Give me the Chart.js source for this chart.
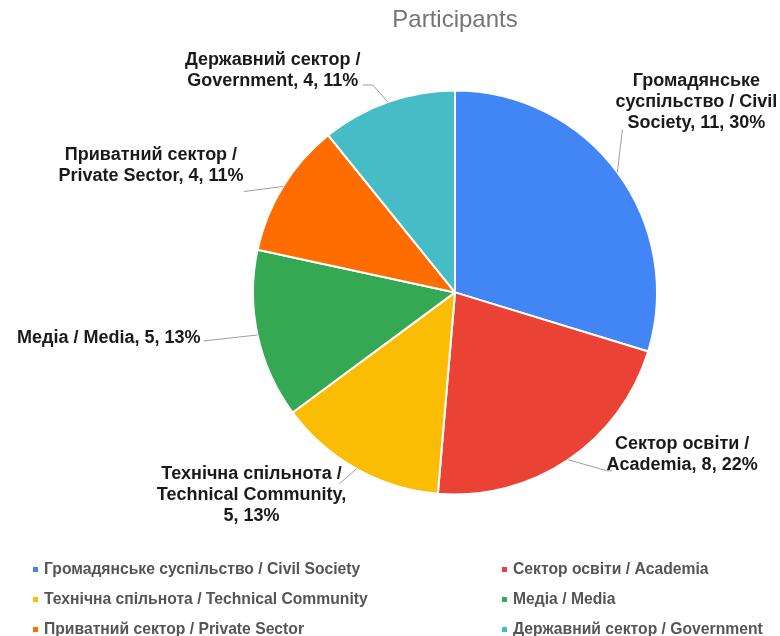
<!DOCTYPE html>
<html>
<head>
<meta charset="utf-8">
<script src="https://cdn.jsdelivr.net/npm/chart.js@4.4.0/dist/chart.umd.min.js"></script>
<style>
  body{margin:0;background:#fff;font-family:"Liberation Sans",Arial,sans-serif}
  #wrap{position:relative;width:780px;height:636px;overflow:hidden}
  #wrap canvas{position:absolute;left:0;top:0}
  #legend{position:absolute;left:33px;top:554px;display:grid;grid-template-columns:469px 260px}
  .lg-item{height:30px;display:flex;align-items:center;font-size:15.7px;font-weight:bold;color:#555;white-space:nowrap}
  .lg-box{width:5px;height:5px;margin-right:6px;flex:none}
</style>
</head>
<body>
<div id="wrap">
  <canvas id="chartPie" width="780" height="636"></canvas>
  <div id="legend"></div>
</div>
<script>
// ─── DATA ───────────────────────────────────────────────────────────
const chartTitle = 'Participants';
const categories = [
  'Громадянське суспільство / Civil Society',
  'Сектор освіти / Academia',
  'Технічна спільнота / Technical Community',
  'Медіа / Media',
  'Приватний сектор / Private Sector',
  'Державний сектор / Government'
];
const counts = [11, 8, 5, 5, 4, 4];
const colors = ['#4285f4','#ea4335','#fbbc04','#34a853','#ff6d01','#46bdc6'];

// label placement relative to the slice's outer edge point (mid angle)
const labelLayout = [
  {leader:[[5,-43]],            dx:79,   dy:-91, align:'center', wrap:170},
  {leader:[[39,11],[44,11]],    dx:114,  dy:-16, align:'center', wrap:160},
  {leader:[[-17,15]],           dx:-105, dy:5,   align:'center', wrap:190},
  {leader:[[-54,6]],            dx:-57,  dy:3,   align:'right',  wrap:400},
  {leader:[[-39,5]],            dx:-132, dy:-31, align:'center', wrap:190},
  {leader:[[-15,-17],[-25,-17]],dx:-115, dy:-42, align:'center', wrap:185}
];

const total = counts.reduce((s,v)=>s+v,0);

// percentages rounded so they add to 100 (largest remainder)
function roundedPercents(vals){
  const raw = vals.map(v=>v/total*100);
  const out = raw.map(Math.floor);
  let left = 100 - out.reduce((s,v)=>s+v,0);
  raw.map((r,i)=>[r-out[i],i]).sort((a,b)=>b[0]-a[0]).forEach(([,i])=>{ if(left>0){out[i]++;left--;} });
  return out;
}
const percents = roundedPercents(counts);

// ─── LEGEND (html) ──────────────────────────────────────────────────
document.getElementById('legend').innerHTML = categories.map((c,i)=>
  `<div class="lg-item"><span class="lg-box" style="background:${colors[i]}"></span>${c}</div>`
).join('');

// ─── OUTSIDE LABELS ─────────────────────────────────────────────────
function wrapText(ctx, text, maxW){
  const words = text.split(' ');
  const lines = [];
  let cur = '';
  words.forEach(w=>{
    const test = cur ? cur + ' ' + w : w;
    if(cur && ctx.measureText(test).width > maxW){ lines.push(cur); cur = w; }
    else cur = test;
  });
  if(cur) lines.push(cur);
  return lines;
}

const outsideLabels = {
  id:'outsideLabels',
  afterDatasetsDraw(chart){
    const ctx = chart.ctx;
    const meta = chart.getDatasetMeta(0);
    ctx.save();
    ctx.font = 'bold 18px "Liberation Sans", Arial, sans-serif';
    meta.data.forEach((arc,i)=>{
      const p = arc.getProps(['x','y','startAngle','endAngle','outerRadius'], true);
      const a = (p.startAngle + p.endAngle) / 2;
      const ex = p.x + Math.cos(a) * p.outerRadius;
      const ey = p.y + Math.sin(a) * p.outerRadius;
      const lay = labelLayout[i];
      // leader line
      ctx.strokeStyle = '#9e9e9e';
      ctx.lineWidth = 1;
      ctx.beginPath();
      ctx.moveTo(ex, ey);
      lay.leader.forEach(([lx,ly])=>ctx.lineTo(ex+lx, ey+ly));
      ctx.stroke();
      // text
      const txt = `${categories[i]}, ${counts[i]}, ${percents[i]}%`;
      const lines = wrapText(ctx, txt, lay.wrap);
      ctx.fillStyle = '#1a1a1a';
      ctx.textAlign = lay.align;
      ctx.textBaseline = 'middle';
      lines.forEach((ln,k)=>ctx.fillText(ln, ex+lay.dx, ey+lay.dy+k*21));
    });
    ctx.restore();
  }
};

// ─── CHART ──────────────────────────────────────────────────────────
new Chart(document.getElementById('chartPie'), {
  type:'pie',
  data:{
    labels:categories,
    datasets:[{data:counts, backgroundColor:colors, borderColor:'#fff', borderWidth:2}]
  },
  options:{
    responsive:false,
    animation:false,
    events:[],
    layout:{padding:{left:252, right:122, top:0, bottom:140}},
    plugins:{
      legend:{display:false},
      tooltip:{enabled:false},
      title:{
        display:true, text:chartTitle, color:'#757575',
        font:{family:'"Liberation Sans", Arial, sans-serif', size:24, weight:'normal'},
        padding:{top:6, bottom:54}
      }
    }
  },
  plugins:[outsideLabels]
});
</script>
</body>
</html>
